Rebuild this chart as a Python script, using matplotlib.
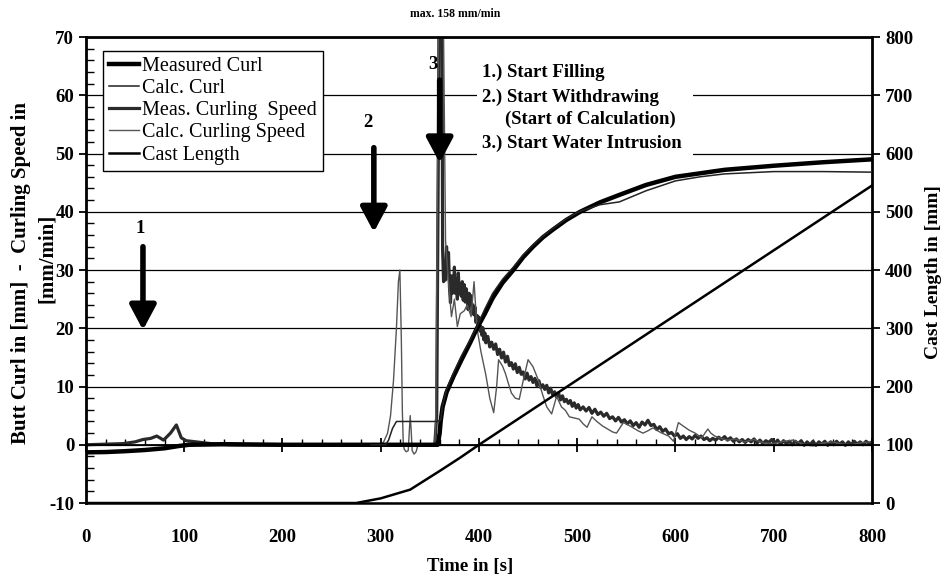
import numpy as np
import matplotlib
matplotlib.use("Agg")
import matplotlib.pyplot as plt
from matplotlib.patches import Rectangle
from matplotlib.ticker import MultipleLocator

plt.rcParams['font.family'] = ['Liberation Serif', 'DejaVu Serif']
plt.rcParams['axes.unicode_minus'] = False

# measured curl [mm]
mc_t = [0, 20, 40, 60, 80, 95, 105, 140, 200, 358, 360, 361, 363, 367, 374, 382, 391, 398,
        406, 414, 424, 435, 445, 455, 465, 475, 489, 503, 523, 543, 570, 600, 650, 700, 750, 800]
mc_v = [-1.3, -1.25, -1.1, -0.9, -0.6, -0.2, 0, 0.1, 0, 0, 2, 4, 6.5, 9, 11.7, 14.5, 17.5, 20,
        22.5, 25.2, 27.8, 30, 32.2, 34, 35.6, 36.9, 38.6, 40, 41.6, 42.9, 44.6, 46.0, 47.2, 47.9, 48.5, 49.0]

# calculated curl [mm]
cc_t = [290, 305, 308, 312, 316, 357, 361, 363, 367, 374, 382, 391, 398, 406, 414, 424, 435,
        445, 455, 465, 475, 489, 503, 523, 543, 570, 600, 625, 650, 700, 750, 800]
cc_v = [0, 0, 0.8, 2.8, 4.0, 4.0, 4.2, 6.8, 9.5, 12.3, 15.2, 18.0, 20.3, 23.3, 26.0, 28.4, 30.5,
        32.6, 34.3, 35.8, 37.1, 38.8, 40.1, 41.2, 41.7, 43.6, 45.3, 46.0, 46.5, 46.9, 46.9, 46.8]

# measured curling speed [mm/min]
ms_t = [0, 38, 50, 58, 66, 72, 79, 86, 92, 97, 102, 112, 132, 150, 355, 357, 359, 361,
        363, 364, 365, 366, 367, 368, 369, 370, 371, 372, 373, 374, 375, 376, 377, 378, 379, 380,
        381, 382, 383, 384, 385, 386, 387, 388, 389, 390, 391, 392, 393, 394, 395, 396, 397, 398,
        399, 400, 401, 402, 403, 404, 405, 406, 407, 409, 411, 413, 415, 417, 419, 421, 423, 425,
        427, 429, 431, 433, 435, 437, 439, 441, 443, 445, 447, 449, 451, 453, 455, 457, 459, 461,
        463, 465, 467, 469, 471, 473, 475, 477, 479, 481, 483, 485, 487, 489, 491, 493, 495, 497,
        499, 501, 503, 506, 509, 512, 515, 518, 521, 524, 527, 530, 533, 536, 539, 542, 545, 548,
        551, 554, 557, 560, 563, 566, 569, 572, 575, 578, 581, 584, 587, 590, 593, 596, 599, 602,
        605, 608, 611, 614, 617, 620, 623, 626, 629, 632, 635, 638, 641, 644, 647, 650, 653, 656,
        659, 662, 665, 668, 671, 674, 677, 680, 683, 686, 689, 692, 695, 698, 701, 704, 707, 710,
        713, 716, 719, 722, 725, 728, 731, 734, 737, 740, 743, 746, 749, 752, 755, 758, 761, 764,
        767, 770, 773, 776, 779, 782, 785, 788, 791, 794, 797, 800]
ms_v = [0, 0.2, 0.5, 0.9, 1.1, 1.5, 0.8, 2.0, 3.4, 1.2, 0.7, 0.5, 0.1, 0, 0, 5, 60, 158,
        33.5, 28, 31, 28.3, 34, 30, 33, 27, 24.4, 29, 26, 27, 30.5, 26, 28.5, 25, 29.5, 26,
        27.5, 25.5, 28, 24.8, 27.5, 24.5, 26.8, 25.4, 23.2, 26, 24.2, 25.6, 22.5, 24, 22.3, 23.6, 21, 22.2,
        20.5, 21.9, 19.5, 20.3, 18.8, 20.1, 18, 19.2, 17.5, 18.6, 16.8, 17.6, 16.4, 17.3, 15.5, 16.4, 14.9, 15.9,
        14.2, 15.2, 13.6, 14.1, 13, 13.9, 12.4, 13.3, 12.1, 12.5, 11.3, 12.3, 11.1, 11.7, 10.7, 11.4, 10.1, 11.0,
        9.8, 10.3, 9.5, 10.2, 8.9, 9.7, 8.6, 9.1, 8.2, 8.9, 7.7, 8.4, 7.4, 7.8, 7.1, 7.6, 6.6, 7.2,
        6.3, 6.9, 6.0, 6.5, 5.8, 6.4, 5.4, 6.1, 5.2, 5.6, 4.9, 5.4, 4.5, 4.8, 4.1, 4.7, 3.9, 4.3,
        3.6, 4.1, 3.3, 3.8, 3.0, 3.9, 3.4, 4.2, 3.3, 3.5, 2.6, 3.1, 2.3, 2.7, 1.9, 2.1, 1.5, 1.9,
        1.1, 1.5, 0.9, 1.4, 1.0, 1.6, 1.1, 1.5, 0.9, 1.2, 0.7, 1.1, 0.8, 1.3, 0.9, 1.4, 0.8, 1.2,
        0.6, 1.0, 0.5, 0.9, 0.4, 0.9, 0.5, 1.0, 0.3, 0.8, 0.2, 0.7, 0.4, 0.9, 0.2, 0.8, 0.1, 0.7,
        0.2, 0.6, 0.0, 0.6, 0.2, 0.7, -0.1, 0.5, 0.0, 0.6, -0.1, 0.5, 0.1, 0.6, -0.1, 0.5, 0.0, 0.6,
        0.1, 0.5, -0.1, 0.5, 0.0, 0.6, 0.1, 0.5, 0.0, 0.6, 0.2, 0.5]

# calculated curling speed [mm/min]
cs_t = [290, 300, 303, 307, 310, 313, 316, 318, 319.5, 321, 322, 323, 324, 326, 328, 329, 330,
        331, 332, 334, 336, 338, 355, 356, 358, 360, 362, 364, 366, 369, 372, 375, 378, 381, 385,
        388, 392, 395, 398, 402, 407, 411, 415, 418, 420, 424, 427, 430, 433, 437, 441, 445, 450,
        455, 460, 465, 469, 474, 479, 484, 488, 492, 497, 502, 506, 510, 515, 520, 526, 532, 536,
        540, 547, 552, 557, 562, 567, 572, 577, 585, 593, 598, 603, 608, 614, 620, 627, 630, 633,
        636, 640, 646, 653, 660, 670, 680, 690, 700, 710, 720, 730, 740, 750, 760, 770, 780, 790, 800]
cs_v = [0, 0, 0.5, 2, 5, 11, 20, 28, 30, 18, 6, 0, -0.8, -1.2, -1.0, 2, 5,
        2.5, -1.0, -1.6, -1.2, 0, 0, 4, 50, 110, 158, 70, 35, 28, 22, 25, 20.3, 22.5, 23,
        24, 22, 28, 20, 16, 12, 8, 5.5, 10, 14.6, 13.5, 12.2, 10.5, 8.9, 8.0, 7.8, 11, 14.6,
        13.4, 11.3, 8.5, 6.5, 5.3, 8.3, 6.5, 5.9, 4.8, 4.6, 4.4, 3.6, 3.0, 4.8, 4.0, 3.2, 2.6, 2.2,
        2.0, 3.8, 3.4, 2.9, 2.4, 2.0, 2.4, 2.9, 2.1, 1.5, 0.6, 3.8, 3.2, 2.5, 2.0, 1.2, 2.0, 2.7,
        2.0, 1.5, 1.1, 0.8, 1.0, 0.5, 0.9, 0.3, 0.2, 0.6, 0.8, 0.1, -0.2, 0.3, 0.5, 0.1, 0.0, 0.4, 0.5]

# cast length [mm]
cl_t = [0, 275, 300, 330, 360, 381, 400, 800]
cl_v = [0, 0, 8, 23, 55, 78, 100, 545]

fig = plt.figure(figsize=(9.49, 5.82), dpi=100)
ax = fig.add_axes([0.0906, 0.1357, 0.8282, 0.8007])
ax2 = ax.twinx()

ax.set_xlim(0, 800)
ax.set_ylim(-10, 70)
ax2.set_ylim(0, 800)

ax.set_axisbelow(True)
ax.yaxis.grid(True, color='black', lw=0.9)
ax.add_patch(Rectangle((398, 49.3), 220, 16.7, facecolor='white', edgecolor='none', zorder=1))

l1, = ax.plot(mc_t, mc_v, color='black', lw=3.2, label='Measured Curl', zorder=3)
l2, = ax.plot(cc_t, cc_v, color='#222222', lw=1.1, label='Calc. Curl', zorder=3)
l3, = ax.plot(ms_t, ms_v, color='#2a2a2a', lw=2.3, label='Meas. Curling  Speed', zorder=2)
l4, = ax.plot(cs_t, cs_v, color='#555555', lw=1.0, label='Calc. Curling Speed', zorder=2)
l5, = ax2.plot(cl_t, cl_v, color='black', lw=1.8, label='Cast Length')

# axes look
for s in ['left', 'right', 'top']:
    ax.spines[s].set_linewidth(2)
ax.spines['bottom'].set_position(('data', 0))
ax.spines['bottom'].set_linewidth(1.3)
ax.axhline(-10, color='black', lw=1.8, clip_on=False)
for s in ax2.spines.values():
    s.set_visible(False)

ax.xaxis.set_major_locator(MultipleLocator(100))
ax.xaxis.set_minor_locator(MultipleLocator(20))
ax.yaxis.set_major_locator(MultipleLocator(10))
ax.yaxis.set_minor_locator(MultipleLocator(2))
ax2.yaxis.set_major_locator(MultipleLocator(100))

ax.tick_params(axis='x', which='major', direction='inout', length=10, width=1.3, pad=56,
               labelsize=13.5)
ax.tick_params(axis='x', which='minor', direction='in', length=4, width=1)
ax.tick_params(axis='y', which='major', direction='out', length=5, width=1.3, labelsize=13.5)
ax.tick_params(axis='y', which='minor', direction='in', length=6, width=1)
ax2.tick_params(axis='y', which='major', direction='out', length=6, width=1.3, labelsize=13.5)
for lab in ax.get_xticklabels() + ax.get_yticklabels() + ax2.get_yticklabels():
    lab.set_fontweight('bold')

# axis titles
fig.text(21 / 949, 1 - 273 / 582, 'Butt Curl in [mm]  -  Curling Speed in', rotation=90,
         ha='center', va='center', fontsize=15, fontweight='bold')
fig.text(47 / 949, 1 - 258 / 582, '[mm/min]', rotation=90,
         ha='center', va='center', fontsize=15, fontweight='bold')
fig.text(933 / 949, 1 - 272 / 582, 'Cast Length in [mm]', rotation=90,
         ha='center', va='center', fontsize=14, fontweight='bold')
fig.text(470 / 949, 1 - 566 / 582, 'Time in [s]', ha='center', va='center',
         fontsize=13.5, fontweight='bold')

# event arrows
arrows = [('1', 58, 34, 19.7, 55, 37.2), ('2', 293, 51, 36.5, 287, 55.3),
          ('3', 360, 62.6, 48.4, 353, 65.2)]
for lab, x, y0, y1, tx, ty in arrows:
    ax.annotate('', xy=(x, y1), xytext=(x, y0),
                arrowprops=dict(arrowstyle='-|>,head_length=0.75,head_width=0.4',
                                lw=4, color='black', mutation_scale=20,
                                shrinkA=0, shrinkB=0), zorder=5)
    ax.text(tx, ty, lab, ha='center', va='center', fontsize=13.5, fontweight='bold', zorder=5)

ax.text(376, 73.9, 'max. 158 mm/min', ha='center', va='center', fontsize=8.5,
        fontweight='bold', clip_on=False)
ax.text(403, 63.85, '1.) Start Filling', va='center', fontsize=13.5, fontweight='bold', zorder=5)
ax.text(403, 59.7, '2.) Start Withdrawing', va='center', fontsize=13.5, fontweight='bold', zorder=5)
ax.text(426.5, 55.8, '(Start of Calculation)', va='center', fontsize=13.5, fontweight='bold', zorder=5)
ax.text(403, 51.7, '3.) Start Water Intrusion', va='center', fontsize=13.5, fontweight='bold', zorder=5)

leg = ax2.legend(handles=[l1, l2, l3, l4, l5], loc='upper left', bbox_to_anchor=(0.0216, 0.97),
                 borderaxespad=0, fancybox=False, framealpha=1, edgecolor='black',
                 fontsize=14.5, handlelength=1.5, handletextpad=0.15, labelspacing=0.15,
                 borderpad=0.3)
leg.get_frame().set_linewidth(1.0)

fig.savefig('out.png', dpi=100)
